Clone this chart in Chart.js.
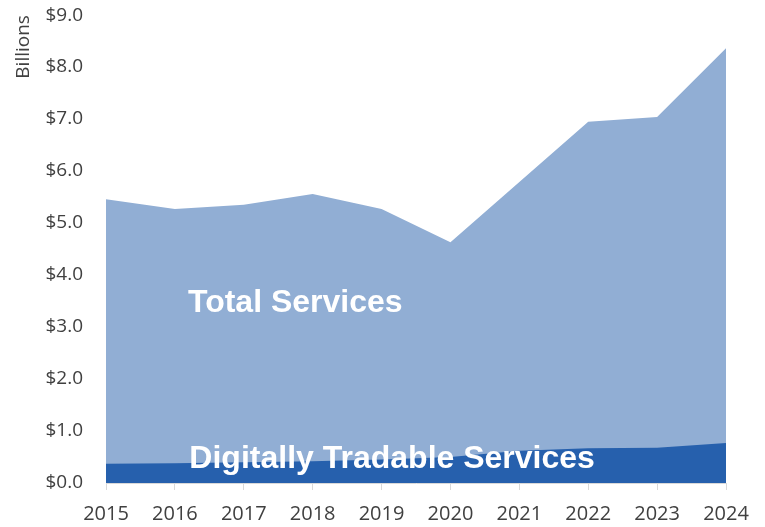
<!DOCTYPE html>
<html>
<head>
<meta charset="utf-8">
<script src="https://cdn.jsdelivr.net/npm/chart.js@4"></script>
<style>
  body { margin: 0; background: #fff; }
  #wrap { width: 765px; height: 527px; }
</style>
</head>
<body>
<div id="wrap"><canvas id="chart" width="765" height="527"></canvas></div>
<script>
const years = ["2015", "2016", "2017", "2018", "2019", "2020", "2021", "2022", "2023", "2024"];
const totalServices = [5.46, 5.27, 5.35, 5.56, 5.27, 4.63, 5.79, 6.95, 7.04, 8.36];
const digitalServices = [0.37, 0.38, 0.40, 0.42, 0.45, 0.50, 0.62, 0.67, 0.68, 0.77];
const yTicks = [0, 1, 2, 3, 4, 5, 6, 7, 8, 9];

// white labels inside the areas
const areaLabels = {
    id: "areaLabels",
    afterDatasetsDraw(chart) {
        const ctx = chart.ctx;
        const x = chart.scales.x;
        const y = chart.scales.y;
        ctx.save();
        ctx.fillStyle = "#ffffff";
        ctx.font = "bold 32px 'Liberation Sans', Arial, sans-serif";
        ctx.textBaseline = "middle";
        ctx.textAlign = "left";
        ctx.fillText("Total Services", x.getPixelForValue(1.19), y.getPixelForValue(3.45));
        ctx.fillText("Digitally Tradable Services", x.getPixelForValue(1.21), y.getPixelForValue(0.46));
        ctx.restore();
    }
};

const ctx = document.getElementById("chart").getContext("2d");
new Chart(ctx, {
    type: "line",
    data: {
        labels: years,
        datasets: [
            {
                label: "Digitally Tradable Services",
                data: digitalServices,
                fill: "origin",
                backgroundColor: "#2660ad",
                borderWidth: 0,
                pointRadius: 0,
                tension: 0
            },
            {
                label: "Total Services",
                data: totalServices,
                fill: "origin",
                backgroundColor: "#91aed4",
                borderWidth: 0,
                pointRadius: 0,
                tension: 0
            }
        ]
    },
    options: {
        responsive: false,
        animation: false,
        layout: { padding: { top: 0, right: 39, left: 12, bottom: 0 } },
        plugins: {
            legend: { display: false },
            tooltip: { enabled: false }
        },
        scales: {
            x: {
                offset: false,
                grid: {
                    display: true,
                    drawOnChartArea: false,
                    drawTicks: true,
                    tickLength: 7,
                    color: "#d9d9d9"
                },
                border: { display: true, color: "#d9d9d9", width: 1 },
                ticks: {
                    color: "#404040",
                    font: { family: "'Open Sans', sans-serif", size: 20 },
                    padding: 12,
                    maxRotation: 0
                },
                afterFit(scale) { scale.height = 44; }
            },
            y: {
                min: 0,
                max: 9,
                afterBuildTicks(scale) { scale.ticks = yTicks.map(v => ({ value: v })); },
                grid: { display: false },
                border: { display: false },
                ticks: {
                    color: "#404040",
                    // tiny lineHeight so the top label does not push the plot down
                    font: { family: "'Open Sans', sans-serif", size: 19, lineHeight: 0.01 },
                    padding: 15,
                    callback: v => "$" + Number(v).toFixed(1)
                },
                title: {
                    display: true,
                    text: "Billions",
                    align: "end",
                    color: "#404040",
                    font: { family: "'Open Sans', sans-serif", size: 19 },
                    padding: { top: 0, bottom: 0 }
                },
                afterFit(scale) { scale.width = 94; }
            }
        }
    },
    plugins: [areaLabels]
});
</script>
</body>
</html>
